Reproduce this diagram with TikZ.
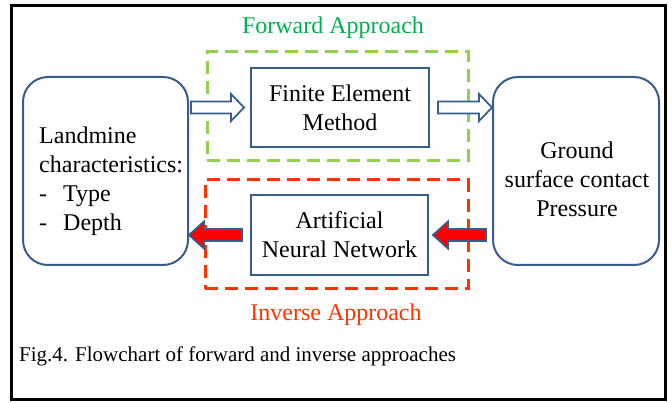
\documentclass[tikz,border=0pt]{standalone}
\usepackage{fontspec}
\setmainfont{Liberation Serif}
\usetikzlibrary{calc}
\definecolor{bblue}{RGB}{56,93,138}
\definecolor{gdash}{RGB}{146,208,80}
\definecolor{gtext}{RGB}{0,176,80}
\definecolor{rdash}{RGB}{255,51,0}
\definecolor{rtext}{RGB}{255,51,0}
\definecolor{rfill}{RGB}{255,0,0}
\newcommand\blockarr[4]{%
  \draw[#1] let \p1=(#2), \p2=(#3) in
    (\x1,\y1+6pt) -- (\x2-#4,\y1+6pt) -- (\x2-#4,\y1+13.5pt) -- (\x2,\y1)
    -- (\x2-#4,\y1-13.5pt) -- (\x2-#4,\y1-6pt) -- (\x1,\y1-6pt) -- cycle;}
\begin{document}
\begin{tikzpicture}[x=1pt,y=-1pt,
  txt/.style={font=\fontsize{24}{29}\selectfont, align=center, inner sep=0pt},
  sqbox/.style={draw=bblue, line width=2pt, fill=white, txt},
  rbox/.style={draw=bblue, line width=2pt, rounded corners=25pt},
  gbox/.style={draw=gdash, line width=3pt, dash pattern=on 13pt off 7pt},
  redbox/.style={draw=rdash, line width=3pt, dash pattern=on 13pt off 7pt},
  hollow/.style={draw=bblue, line width=1.8pt, fill=white, line join=miter},
  solidred/.style={draw=bblue, line width=1.8pt, fill=rfill, line join=miter}]
\useasboundingbox (0,0) rectangle (672,403);
\draw[line width=3pt] (11,6) rectangle (665,399);
% group boxes
\node (G) [gbox, minimum width=261pt, minimum height=109pt] at (337.5,106.5) {};
\node (Rd) [redbox, minimum width=263pt, minimum height=109pt] at (336.5,234.5) {};
% main boxes
\node (L) [rbox, minimum width=165pt, minimum height=188pt] at (105.5,171) {};
\node (R) [rbox, minimum width=166pt, minimum height=188pt] at (576,171) {};
\node (F) [sqbox, minimum width=178pt, minimum height=79pt] at (340,107.5) {Finite Element\\Method};
\node (A) [sqbox, minimum width=177pt, minimum height=80pt] at (339.5,235) {Artificial\\Neural Network};
% texts in rounded boxes
\node (Lt) [txt, align=left, anchor=west] at (39,181.5) {Landmine\\characteristics:\\\makebox[24pt][l]{-}Type\\\makebox[24pt][l]{-}Depth};
\node (Rt) [txt] at (577,179.5) {Ground\\surface contact\\Pressure};
% labels
\node (GT) [txt, text=gtext] at (333,28) {Forward Approach};
\node (RT) [txt, text=rtext] at (336,315) {Inverse Approach};
\node (cap) [font=\fontsize{21}{25}\selectfont, inner sep=0pt, anchor=west] at (19,356) {Fig.4. Flowchart of forward and inverse approaches};
% arrows
\coordinate (a1s) at ($(L.east |- F.west)+(2,0)$);
\coordinate (a1e) at ($(F.west)+(-6,0)$);
\coordinate (a2s) at ($(F.east)+(8,0)$);
\coordinate (a2e) at (R.west |- F.east);
\coordinate (a3s) at ($(R.west |- A.east)+(-6,0)$);
\coordinate (a3e) at ($(A.east)+(4,0)$);
\coordinate (a4s) at ($(A.west)+(-8,0)$);
\coordinate (a4e) at (L.east |- A.west);
\blockarr{hollow}{a1s}{a1e}{13pt}
\blockarr{hollow}{a2s}{a2e}{13pt}
\blockarr{solidred}{a3s}{a3e}{-15pt}
\blockarr{solidred}{a4s}{a4e}{-15pt}
\end{tikzpicture}
\end{document}
